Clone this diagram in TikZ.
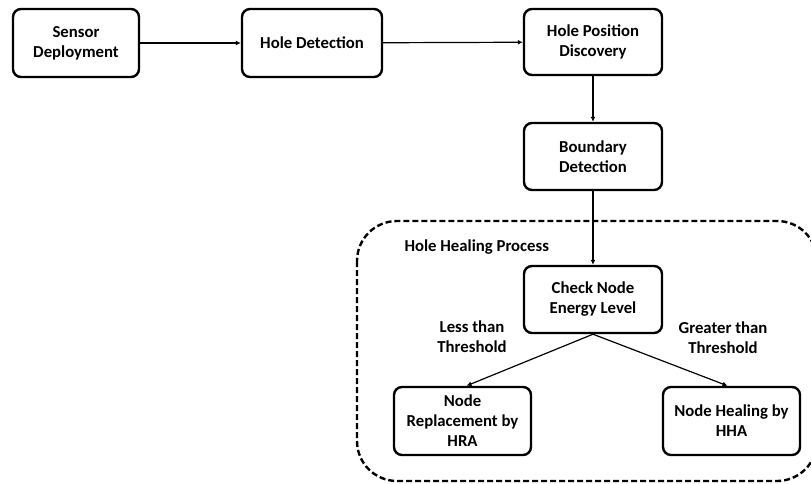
\documentclass[tikz,border=0pt]{standalone}
\usepackage{fontspec}
\setmainfont{Carlito}
\usetikzlibrary{arrows.meta}
\begin{document}
\begin{tikzpicture}[x=1bp,y=-1bp,
  stepbox/.style={draw, line width=2.4bp, rounded corners=8bp, align=center,
    inner sep=2bp, font=\fontsize{16.8}{20}\selectfont\bfseries},
  flow/.style={line width=1.2bp, -{Latex[length=5bp,width=5bp]}},
  note/.style={align=center, font=\fontsize{16.8}{20}\selectfont\bfseries}]
\clip (0,0) rectangle (811,484);
\fill[white] (0,0) rectangle (811,484);

% dashed group around the healing stage
\draw[line width=2.4bp, dash pattern=on 6bp off 3bp, rounded corners=40bp]
  (357,221) rectangle (817,481);
\node[note, anchor=west] (grp) at (401,247) {Hole Healing Process};

% process steps
\node[stepbox, minimum width=126bp, minimum height=68bp] (sd) at (76,43) {Sensor\\Deployment};
\node[stepbox, minimum width=140bp, minimum height=68bp] (hd) at (312,43) {Hole Detection};
\node[stepbox, minimum width=138bp, minimum height=66bp] (hpd) at (593,42) {Hole Position\\Discovery};
\node[stepbox, minimum width=138bp, minimum height=67bp] (bd) at (593,156.5) {Boundary\\Detection};
\node[stepbox, minimum width=138bp, minimum height=67bp] (chk) at (593,299.5) {Check Node\\Energy Level};
\node[stepbox, minimum width=137bp, minimum height=68bp] (nr) at (462.5,421) {Node\\Replacement by\\HRA};
\node[stepbox, minimum width=137bp, minimum height=68bp] (nh) at (731.5,421) {Node Healing by\\HHA};

% branch conditions
\node[note] (lt) at (472,337) {Less than\\Threshold};
\node[note] (gt) at (723,338) {Greater than\\Threshold};

% connectors
\draw[flow] (sd) -- (hd);
\draw[flow] (hd) -- (hpd);
\draw[flow] (hpd) -- (bd);
\draw[flow] (bd) -- (chk);
\draw[flow] (chk.south) -- ([xshift=4bp]nr.north);
\draw[flow] (chk.south) -- ([xshift=-4bp]nh.north);
\end{tikzpicture}
\end{document}
